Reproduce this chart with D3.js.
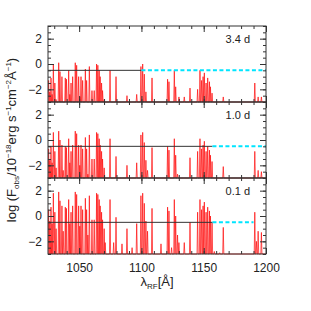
<!DOCTYPE html>
<html>
<head>
<meta charset="utf-8">
<script src="https://cdn.jsdelivr.net/npm/d3@7"></script>
<style>
  body { margin: 0; background: #fff; }
  svg { display: block; }
</style>
</head>
<body>
<svg id="chart" width="311" height="311"></svg>
<script>
// spike wavelengths (rest frame, Angstrom), shared by the three epochs
const wave = [1025.5, 1026.4, 1027.4, 1028.3, 1029.3, 1030.5, 1031.5, 1033.6, 1034.6, 1036.2,
  1037.2, 1038.9, 1039.8, 1041.6, 1042.5, 1043.5, 1044.8, 1046.9, 1048.0, 1049.6,
  1050.5, 1051.5, 1052.8, 1055.0, 1056.0, 1057.0, 1058.2, 1060.3, 1062.1, 1064.0,
  1065.0, 1066.1, 1066.9, 1068.0, 1068.8, 1070.1, 1070.9, 1074.8, 1077.7, 1079.6,
  1084.4, 1088.4, 1092.5, 1096.2, 1099.6, 1101.0, 1102.3, 1103.6, 1104.9, 1108.5,
  1115.7, 1121.0, 1122.1, 1124.2, 1126.4, 1127.5, 1129.0, 1130.1, 1134.4, 1139.0,
  1145.1, 1147.0, 1148.3, 1149.5, 1150.5, 1151.9, 1153.2, 1154.6, 1155.4, 1156.7,
  1158.5, 1162.8, 1165.7, 1191.0, 1192.3, 1193.7, 1196.3];

// log flux at each spike peak, one array per epoch
const flux34 = [-1.3, -2.2, -1.1, -2.4, 0.0, -1.5, -2.8, 0.1, -0.6, -1.0,
  -3, -1.1, -1.2, -0.5, -2.4, -1.5, -1.0, 0.1, -0.1, -1.0,
  -2.6, -1.0, -1.3, -0.4, -1.3, -3, -0.2, -2.1, -2.1, 0.0,
  -0.1, -0.5, -1.0, -1.5, -2.1, -2.8, -3, -0.5, -3, -1.0,
  -3, -2.5, -3, -2.4, -0.2, 0.0, -0.8, -2.2, -3, -1.1,
  -3, -1.2, -1.4, -3, -0.5, -1.8, -3, -2.6, -2.6, -1.9,
  -2.0, -0.5, -1.3, -1.0, -0.7, -1.5, -1.1, -1.4, -1.8, -2.3,
  -3, -3, -2.6, -1.5, -3, -2.6, -2.6];

const flux10 = [-0.7, -1.6, -0.5, -1.8, 0.6, -0.9, -2.2, 0.7, 0.0, -0.4,
  -2.4, -0.5, -0.6, 0.1, -1.8, -0.9, -0.4, 0.7, 0.5, -0.4,
  -2.0, -0.4, -0.7, 0.2, -0.7, -2.7, 0.4, -1.5, -1.5, 0.6,
  0.5, 0.1, -0.4, -0.9, -1.5, -2.2, -3, 0.1, -3, -1.3,
  -3, -2.0, -3, -1.8, 0.4, 0.6, -0.2, -1.6, -2.4, -0.6,
  -3, -0.5, -0.8, -3, 0.1, -1.2, -2.7, -3, -3, -1.4,
  -0.9, 0.1, -0.7, -0.4, -0.1, -0.9, -0.5, -0.8, -1.2, -1.7,
  -3, -3, -2.1, -0.9, -3, -2.4, -2.5];

const flux01 = [0.5, -0.4, 0.7, -0.6, 1.8, 0.3, -1.0, 1.9, 1.2, 0.8,
  -1.2, 0.7, 0.6, 1.3, -0.6, 0.3, 0.8, 1.9, 1.7, 0.8,
  -0.8, 0.8, 0.5, 1.4, 0.5, -1.5, 1.6, -0.3, -0.3, 1.8,
  1.7, 1.3, 0.8, 0.3, -0.3, -1.0, -2.1, 1.3, -2.1, -0.1,
  -2.2, -1.0, -2.5, -0.6, 1.6, 1.8, 1.0, -0.4, -1.2, 0.6,
  -2.2, 0.7, 0.4, -2.5, 1.3, 0.0, -1.5, -2.1, -2.1, -0.5,
  0.3, 1.3, 0.5, 0.8, 1.1, 0.3, 0.7, 0.4, 0.0, -0.5,
  -2.8, -2.9, -0.9, 0.3, -2.0, -1.2, -1.3];

const panelFlux = [flux34, flux10, flux01];
const panelLabels = ["3.4 d", "1.0 d", "0.1 d"];

// continuum level and the extent of its solid / dashed parts
const contLevel = -0.5;
const blackEnd = [1100, 1157, 1157];
const cyanStart = [1100, 1157, 1157];
const cyanEnd = [1200, 1200, 1190];

const xDomain = [1025, 1200];
const yDomain = [-3, 3];
const yMajor = [-2, 0, 2];

const svg = d3.select("#chart");
const margin = { left: 48, right: 45, top: 26 };
const panelH = 76;
const plotW = 311 - margin.left - margin.right;
const spikeHalfWidth = 0.45;
const font = "'Liberation Sans', Arial, sans-serif";

const x = d3.scaleLinear().domain(xDomain).range([margin.left, margin.left + plotW]);

panelFlux.forEach((flux, p) => {
  const top = margin.top + p * panelH;
  const bottom = top + panelH;
  const y = d3.scaleLinear().domain(yDomain).range([bottom, top]);
  const g = svg.append("g").attr("class", "panel");

  // clip for the spectrum
  const clipId = "clip" + p;
  svg.append("clipPath").attr("id", clipId)
    .append("rect")
    .attr("x", margin.left).attr("y", top)
    .attr("width", plotW).attr("height", panelH + 1);

  // build spectrum as narrow spikes rising from the floor
  const pts = [[xDomain[0], yDomain[0]]];
  wave.forEach((w, i) => {
    pts.push([w - spikeHalfWidth, yDomain[0]]);
    pts.push([w, flux[i]]);
    pts.push([w + spikeHalfWidth, yDomain[0]]);
  });
  pts.push([xDomain[1], yDomain[0]]);

  const line = d3.line().x(d => x(d[0])).y(d => y(d[1]));

  g.append("path")
    .attr("clip-path", `url(#${clipId})`)
    .attr("fill", "none")
    .attr("stroke", "#ff1010")
    .attr("stroke-width", 0.8)
    .attr("stroke-opacity", 0.9)
    .attr("d", line(pts));

  // continuum: solid then dashed cyan
  g.append("line")
    .attr("x1", x(xDomain[0])).attr("x2", x(blackEnd[p]))
    .attr("y1", y(contLevel)).attr("y2", y(contLevel))
    .attr("stroke", "#333").attr("stroke-width", 1);
  g.append("line")
    .attr("x1", x(cyanStart[p])).attr("x2", x(cyanEnd[p]))
    .attr("y1", y(contLevel)).attr("y2", y(contLevel))
    .attr("stroke", "#00e5ff").attr("stroke-width", 2)
    .attr("stroke-dasharray", "4,2.5");

  // frame
  g.append("rect")
    .attr("x", margin.left).attr("y", top)
    .attr("width", plotW).attr("height", panelH)
    .attr("fill", "none").attr("stroke", "#333").attr("stroke-width", 1);

  const tickStyle = sel => {
    sel.select(".domain").remove();
    sel.selectAll("line").attr("stroke", "#333");
  };

  // left / right y ticks (inward)
  g.append("g").attr("transform", `translate(${margin.left},0)`)
    .call(d3.axisLeft(y).tickValues(y.ticks(12)).tickSize(-3).tickFormat(""))
    .call(tickStyle);
  g.append("g").attr("transform", `translate(${margin.left},0)`)
    .call(d3.axisLeft(y).tickValues(yMajor).tickSize(-6).tickPadding(6)
      .tickFormat(d => d < 0 ? "\u2212" + Math.abs(d) : d))
    .call(tickStyle)
    .selectAll("text").attr("font-family", font).attr("font-size", 12).attr("fill", "#222");
  g.append("g").attr("transform", `translate(${margin.left + plotW},0)`)
    .call(d3.axisRight(y).tickValues(y.ticks(12)).tickSize(-3).tickFormat(""))
    .call(tickStyle);
  g.append("g").attr("transform", `translate(${margin.left + plotW},0)`)
    .call(d3.axisRight(y).tickValues(yMajor).tickSize(-6).tickFormat(""))
    .call(tickStyle);

  // top / bottom x ticks (inward)
  g.append("g").attr("transform", `translate(0,${top})`)
    .call(d3.axisTop(x).ticks(18).tickSize(-3).tickFormat(""))
    .call(tickStyle);
  g.append("g").attr("transform", `translate(0,${top})`)
    .call(d3.axisTop(x).ticks(4).tickSize(-6).tickFormat(""))
    .call(tickStyle);
  g.append("g").attr("transform", `translate(0,${bottom})`)
    .call(d3.axisBottom(x).ticks(18).tickSize(-3).tickFormat(""))
    .call(tickStyle);
  const bx = g.append("g").attr("transform", `translate(0,${bottom})`)
    .call(d3.axisBottom(x).ticks(4).tickSize(-6).tickPadding(9)
      .tickFormat(p === panelFlux.length - 1 ? d3.format("d") : ""))
    .call(tickStyle);
  bx.selectAll("text").attr("font-family", font).attr("font-size", 12).attr("fill", "#222");

  // epoch label
  g.append("text")
    .attr("x", 250).attr("y", top + 17)
    .attr("text-anchor", "end")
    .attr("font-family", font).attr("font-size", 11).attr("fill", "#222")
    .text(panelLabels[p]);
});

// x axis label
const xl = svg.append("text")
  .attr("x", margin.left + plotW / 2).attr("y", 286)
  .attr("text-anchor", "middle")
  .attr("font-family", font).attr("font-size", 13).attr("fill", "#222");
xl.append("tspan").text("\u03bb");
xl.append("tspan").attr("font-size", 8).attr("dy", 3).text("RF");
xl.append("tspan").attr("dy", -3).text("[\u00c5]");

// y axis label
const yl = svg.append("text")
  .attr("transform", `translate(16,${margin.top + 1.5 * panelH}) rotate(-90)`)
  .attr("text-anchor", "middle")
  .attr("font-family", font).attr("font-size", 13).attr("fill", "#222");
yl.append("tspan").text("log  (F");
yl.append("tspan").attr("font-size", 8).attr("dy", 3).text("obs");
yl.append("tspan").attr("dy", -3).text("/10");
yl.append("tspan").attr("font-size", 8).attr("dy", -5).text("\u221218");
yl.append("tspan").attr("dy", 5).text("erg s");
yl.append("tspan").attr("font-size", 8).attr("dy", -5).text("\u22121");
yl.append("tspan").attr("dy", 5).text("cm");
yl.append("tspan").attr("font-size", 8).attr("dy", -5).text("\u22122");
yl.append("tspan").attr("dy", 5).text("\u00c5");
yl.append("tspan").attr("font-size", 8).attr("dy", -5).text("\u22121");
yl.append("tspan").attr("dy", 5).text(")");
</script>
</body>
</html>
